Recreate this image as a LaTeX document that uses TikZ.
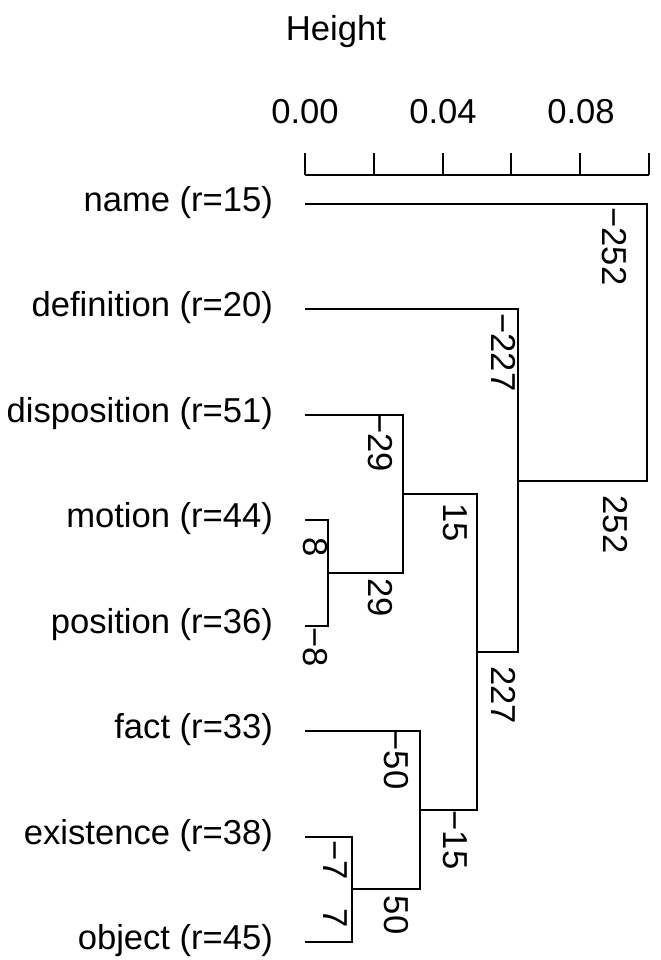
\documentclass[tikz,border=0pt]{standalone}
\usepackage{fontspec}
\setmainfont{Liberation Sans}
\begin{document}
\begin{tikzpicture}[x=0.5pt,y=-0.5pt,line width=1pt,
  lbl/.style={font=\fontsize{17.3}{20}\selectfont,inner sep=0pt},
  leaflbl/.style={lbl,anchor=base east},
  edgelbl/.style={lbl,rotate=-90,anchor=center},
  ticklbl/.style={lbl,anchor=base}]
\useasboundingbox (0,0) rectangle (660,960);
% title and axis
\node[ticklbl] (title) at (336,40) {Height};
\coordinate (ax0) at (305,175);
\coordinate (ax1) at (649,175);
\draw (ax0) -- (ax1);
\foreach \i in {0,...,5} \draw (305+68.8*\i,175) -- ++(0,-22);
\node[ticklbl] (t0) at (305,123.5) {0.00};
\node[ticklbl] (t4) at (443,123.5) {0.04};
\node[ticklbl] (t8) at (581,123.5) {0.08};
% leaves
\foreach \n/\t [count=\k from 0] in {name/name (r=15),definition/definition (r=20),disposition/disposition (r=51),motion/motion (r=44),position/position (r=36),fact/fact (r=33),existence/existence (r=38),object/object (r=45)}{
  \coordinate (\n) at (305,204+105.43*\k);
  \node[leaflbl] (l\n) at (274,211.5+105.43*\k) {\t};
}
% merge points
\coordinate (m1) at (328,573);
\coordinate (m2) at (403,494);
\coordinate (m3) at (352,889);
\coordinate (m4) at (420,810);
\coordinate (m5) at (477,652);
\coordinate (m6) at (518,481);
\coordinate (m7) at (647,343);
\draw (motion) -| (m1);
\draw (position) -| (m1);
\draw (disposition) -| (m2);
\draw (m1) -| (m2);
\draw (existence) -| (m3);
\draw (object) -| (m3);
\draw (fact) -| (m4);
\draw (m3) -| (m4);
\draw (m2) -| (m5);
\draw (m4) -| (m5);
\draw (definition) -| (m6);
\draw (m5) -| (m6);
\draw (name) -| (m7);
\draw (m6) -| (m7);
% edge labels
\node[edgelbl] (e1) at (614,246.5) {−252};
\node[edgelbl] (e2) at (615,524.5) {252};
\node[edgelbl] (e3) at (503.5,352.5) {−227};
\node[edgelbl] (e4) at (380,442.5) {−29};
\node[edgelbl] (e5) at (455.5,522.5) {15};
\node[edgelbl] (e6) at (315,547.5) {8};
\node[edgelbl] (e7) at (380,597.5) {29};
\node[edgelbl] (e8) at (315,647.5) {−8};
\node[edgelbl] (e9) at (503.5,695) {227};
\node[edgelbl] (e10) at (396,760) {−50};
\node[edgelbl] (e11) at (455.5,840) {−15};
\node[edgelbl] (e12) at (335.5,860) {−7};
\node[edgelbl] (e13) at (335.5,918) {7};
\node[edgelbl] (e14) at (396,915) {50};
\end{tikzpicture}
\end{document}
